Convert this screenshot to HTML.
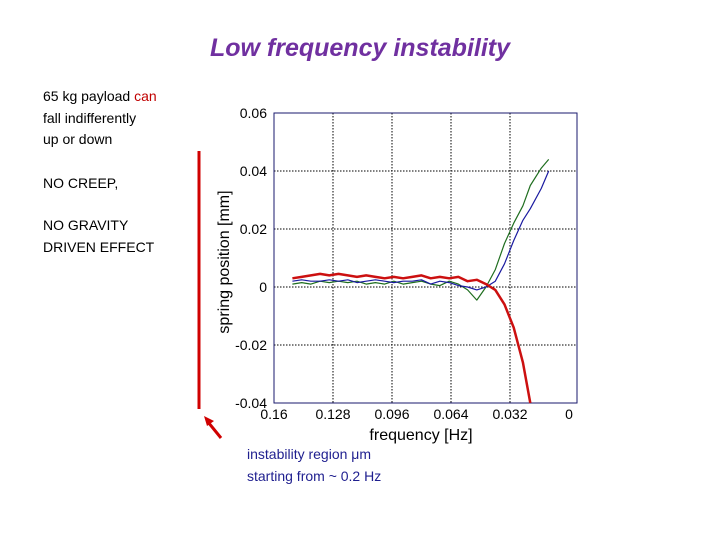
<!DOCTYPE html>
<html><head><meta charset="utf-8"><style>
body{margin:0;width:720px;height:540px;background:#fff;position:relative;overflow:hidden;font-family:"Liberation Sans",sans-serif}
.t{position:absolute;font-size:14px;line-height:21.5px;color:#000}
</style></head><body>
<div style="position:absolute;left:0;width:720px;top:34px;text-align:center;font-size:25px;font-weight:bold;font-style:italic;color:#7030A0">Low frequency instability</div>
<div class="t" style="left:43px;top:86px">65 kg payload <span style="color:#c00000">can</span><br>fall indifferently<br>up or down</div>
<div class="t" style="left:43px;top:173px">NO CREEP,</div>
<div class="t" style="left:43px;top:215px">NO GRAVITY<br>DRIVEN EFFECT</div>
<div class="t" style="left:247px;top:444px;color:#1f1f8f">instability region μm<br>starting from ~ 0.2 Hz</div>
<svg id="c" width="720" height="540" style="position:absolute;left:0;top:0"></svg>
<script>
const freq=[0.150,0.145,0.140,0.135,0.130,0.125,0.120,0.115,0.110,0.105,0.100,0.095,0.090,0.085,0.080,0.075,0.070,0.065,0.060,0.055,0.050,0.045,0.040,0.035,0.030,0.025,0.021,0.015,0.011];
const red=[0.003,0.0035,0.004,0.0045,0.004,0.0045,0.004,0.0035,0.004,0.0035,0.003,0.0035,0.003,0.0035,0.004,0.003,0.0035,0.003,0.0035,0.002,0.0025,0.001,-0.001,-0.006,-0.014,-0.026,-0.040,null,null];
const green=[0.001,0.0015,0.001,0.002,0.0015,0.002,0.0015,0.002,0.001,0.0015,0.001,0.002,0.001,0.0015,0.002,0.001,0.0005,0.002,0.001,-0.001,-0.0045,0.000,0.006,0.015,0.022,0.028,0.035,0.041,0.044];
const blue=[0.002,0.0025,0.002,0.002,0.0025,0.002,0.0025,0.0015,0.002,0.0025,0.002,0.0015,0.002,0.002,0.0025,0.001,0.002,0.0015,0.0005,0.000,-0.001,0.000,0.002,0.008,0.016,0.023,0.027,0.034,0.040];
const xTicks=[0.16,0.128,0.096,0.064,0.032,0];
const xTickLabels=["0.16","0.128","0.096","0.064","0.032","0"];
const yTicks=[0.06,0.04,0.02,0,-0.02,-0.04];
const yTickLabels=["0.06","0.04","0.02","0","-0.02","-0.04"];
const svg=document.getElementById('c'),NS='http://www.w3.org/2000/svg';
const L=274,R=577,T=113,B=403;
const x=f=>569-f/0.032*59;
const y=v=>287-v/0.02*58;
function mk(t,a,p){const e=document.createElementNS(NS,t);for(const k in a)e.setAttribute(k,a[k]);(p||svg).appendChild(e);return e;}
let g;
g=mk('line',{x1:199,y1:151,x2:199,y2:409,stroke:'#d00000','stroke-width':3});

g=mk('line',{x1:221,y1:438,x2:208,y2:422,stroke:'#d00000','stroke-width':3});

g=mk('polygon',{points:'204,416 214,421 207,426',fill:'#d00000'});

xTicks.forEach((t,i)=>{const px=x(t);
 if(t>0&&t<0.16){g=mk('line',{x1:px,y1:T,x2:px,y2:B,stroke:'#000','stroke-dasharray':'1.5,1.5','stroke-width':1});}
 g=mk('text',{x:px,y:B+16,'text-anchor':'middle','font-size':14,fill:'#000'});g.textContent=xTickLabels[i];
 });
yTicks.forEach((t,i)=>{const py=y(t);
 if(t<0.06&&t>-0.04){g=mk('line',{x1:L,y1:py,x2:R,y2:py,stroke:'#000','stroke-dasharray':'1.5,1.5','stroke-width':1});}
 g=mk('text',{x:267,y:py+5,'text-anchor':'end','font-size':14,fill:'#000'});g.textContent=yTickLabels[i];
 });
g=mk('rect',{x:L,y:T,width:R-L,height:B-T,fill:'none',stroke:'#1a1a6e','stroke-width':1});

function series(vals,col,w,name){let d='',pen=false;vals.forEach((v,i)=>{if(v===null){pen=false;return;}d+=(pen?'L':'M')+x(freq[i]).toFixed(1)+','+y(v).toFixed(1);pen=true;});
 const p=mk('path',{d:d,fill:'none',stroke:col,'stroke-width':w,'stroke-linejoin':'round'});
 }
series(green,'#1f6e1f',1.2,'series-green');
series(blue,'#1a1aa0',1.2,'series-blue');
series(red,'#cc1010',2.5,'series-red');
g=mk('text',{x:421,y:440,'text-anchor':'middle','font-size':16,fill:'#000'});g.textContent='frequency [Hz]';

g=mk('text',{x:0,y:0,'text-anchor':'middle','font-size':16,fill:'#000',transform:'translate(229,262) rotate(-90)'});g.textContent='spring position [mm]';

</script>
</body></html>
